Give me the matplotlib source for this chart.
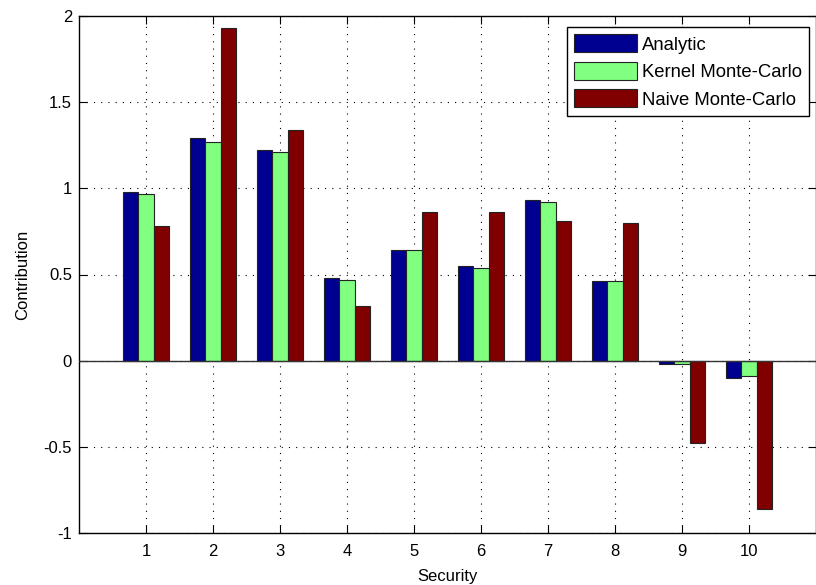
import numpy as np
import matplotlib.pyplot as plt

plt.rcParams['font.family'] = ['Liberation Sans', 'DejaVu Sans']

# Contribution per security
securities = [1, 2, 3, 4, 5, 6, 7, 8, 9, 10]
analytic = [0.98, 1.29, 1.22, 0.48, 0.64, 0.55, 0.93, 0.46, -0.02, -0.10]
kernel_mc = [0.97, 1.27, 1.21, 0.47, 0.64, 0.54, 0.92, 0.46, -0.02, -0.09]
naive_mc = [0.78, 1.93, 1.34, 0.32, 0.86, 0.86, 0.81, 0.80, -0.48, -0.86]

series = [analytic, kernel_mc, naive_mc]
labels = ["Analytic", "Kernel Monte-Carlo", "Naive Monte-Carlo"]
colors = ["#000090", "#80FF80", "#800000"]

fig = plt.figure(figsize=(8.16, 5.85), dpi=100)
ax = fig.add_axes([79 / 816, 52 / 585, 737 / 816, 517 / 585])

x = np.array(securities)
w = 0.23
for i, (vals, lab, col) in enumerate(zip(series, labels, colors)):
    ax.bar(x + (i - 1) * w, vals, width=w, color=col, edgecolor="#222222",
           linewidth=0.8, label=lab, zorder=3)

ax.axhline(0, color="#333333", linewidth=1.0, zorder=4)

ax.set_xlim(0, 11)
ax.set_ylim(-1, 2)
ax.set_xticks(securities)
ax.set_yticks([-1, -0.5, 0, 0.5, 1, 1.5, 2])
ax.set_yticklabels(["-1", "-0.5", "0", "0.5", "1", "1.5", "2"])
ax.grid(True, linestyle=(0, (1, 5.5)), color="black", linewidth=0.8, zorder=0)
ax.tick_params(direction="in", length=6, top=True, right=True, labelsize=12)
ax.tick_params(axis="x", pad=8)
ax.tick_params(axis="y", pad=5)
for s in ax.spines.values():
    s.set_linewidth(1.0)

ax.set_xlabel("Security", fontsize=12, labelpad=7)
ax.set_ylabel("Contribution", fontsize=12, labelpad=10)

leg = ax.legend(loc="upper right", bbox_to_anchor=(809 / 816, 1 - 27 / 585),
                bbox_transform=fig.transFigure, borderaxespad=0,
                fontsize=13.3, fancybox=False, framealpha=1,
                edgecolor="black", handlelength=3.4, handleheight=1.13,
                labelspacing=0.44, handletextpad=0.25, borderpad=0.4)
leg.get_frame().set_linewidth(1.0)

plt.savefig("out.png", dpi=100)
